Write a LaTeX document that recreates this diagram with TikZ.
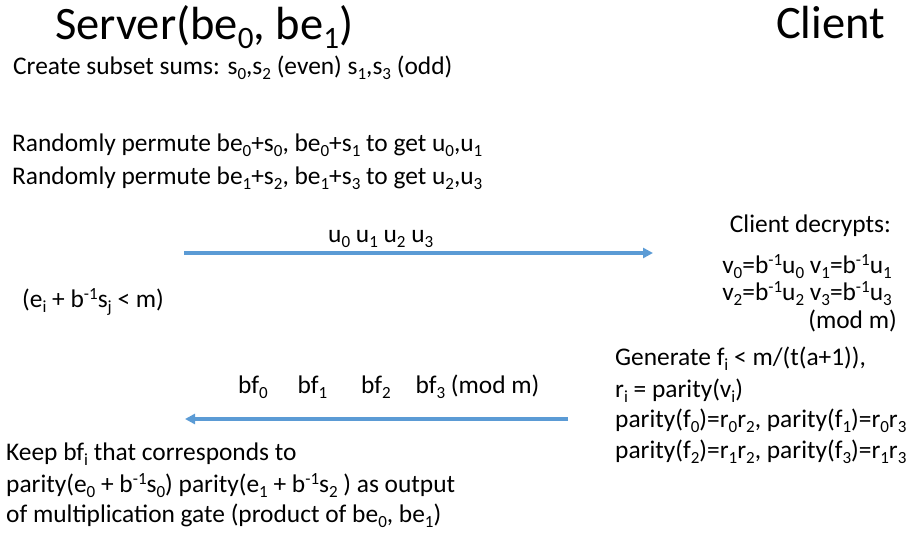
\documentclass[tikz,border=0pt]{standalone}
\usepackage{fontspec}
\setmainfont{Carlito}
\usepackage{graphicx}
\usepackage{tikz}
\usetikzlibrary{arrows.meta}
\definecolor{msgblue}{RGB}{91,155,213}
\newcommand\lo[1]{\raisebox{-0.2em}{\scalebox{0.67}{#1}}}
\newcommand\hi[1]{\raisebox{0.3em}{\scalebox{0.67}{#1}}}

\begin{document}
\begin{tikzpicture}[x=1pt, y=-1pt,
    txt/.style={inner sep=0pt, anchor=base west, font=\fontsize{25.4}{31}\selectfont},
    rtxt/.style={txt, anchor=base east},
    head/.style={inner sep=0pt, anchor=base west, font=\fontsize{46.5}{56}\selectfont},
    msg/.style={draw=msgblue, line width=3.3pt, -{Triangle[length=10pt,width=10pt]}}]
        \useasboundingbox (0,0) rectangle (914,533);

        % Parties
        \node[head] (server) at (55,39) {Server(be\lo{0}, be\lo{1})};
        \node[head] (client) at (776,38) {Client};

        % Server side
        \node[txt] (sums) at (13,74) {Create subset sums: s\lo{0},s\lo{2} (even) s\lo{1},s\lo{3} (odd)};
        \node[txt] (perma) at (12,151) {Randomly permute be\lo{0}+s\lo{0}, be\lo{0}+s\lo{1} to get u\lo{0},u\lo{1}};
        \node[txt] (permb) at (12,184) {Randomly permute be\lo{1}+s\lo{2}, be\lo{1}+s\lo{3} to get u\lo{2},u\lo{3}};
        \node[txt] (bound) at (22,307) {(e\lo{i} + b\hi{-1}s\lo{j} < m)};

        % Client side
        \node[rtxt] (decr) at (891,232) {Client decrypts:};
        \node[rtxt] (va) at (892,273) {v\lo{0}=b\hi{-1}u\lo{0} v\lo{1}=b\hi{-1}u\lo{1}};
        \node[rtxt] (vb) at (892,300) {v\lo{2}=b\hi{-1}u\lo{2} v\lo{3}=b\hi{-1}u\lo{3}};
        \node[rtxt] (vmod) at (897,328) {(mod m)};
        \node[txt] (gen) at (615,365) {Generate f\lo{i} < m/(t(a+1)),};
        \node[txt] (par) at (615,397) {r\lo{i} = parity(v\lo{i})};
        \node[txt] (pa) at (615,427) {parity(f\lo{0})=r\lo{0}r\lo{2}, parity(f\lo{1})=r\lo{0}r\lo{3}};
        \node[txt] (pb) at (615,458) {parity(f\lo{2})=r\lo{1}r\lo{2}, parity(f\lo{3})=r\lo{1}r\lo{3}};

        % Messages
        \coordinate (sa) at (184,253);
        \coordinate (ca) at (653,253);
        \coordinate (cb) at (568,419);
        \coordinate (sb) at (185,419);
        \draw[msg] (sa) -- (ca);
        \draw[msg] (cb) -- (sb);
        \node[txt] (ulab) at (328,242) {u\lo{0} u\lo{1} u\lo{2} u\lo{3}};
        \node[txt] (flab) at (238,393) {bf\lo{0}\hspace{30pt}bf\lo{1}\hspace{34pt}bf\lo{2}\hspace{25pt}bf\lo{3} (mod m)};

        % Output
        \node[txt] (keep) at (6,460) {Keep bf\lo{i} that corresponds to};
        \node[txt] (keepb) at (6,492) {parity(e\lo{0} + b\hi{-1}s\lo{0}) parity(e\lo{1} + b\hi{-1}s\lo{2} ) as output};
        \node[txt] (keepc) at (6,522) {of multiplication gate (product of be\lo{0}, be\lo{1})};
\end{tikzpicture}
\end{document}
